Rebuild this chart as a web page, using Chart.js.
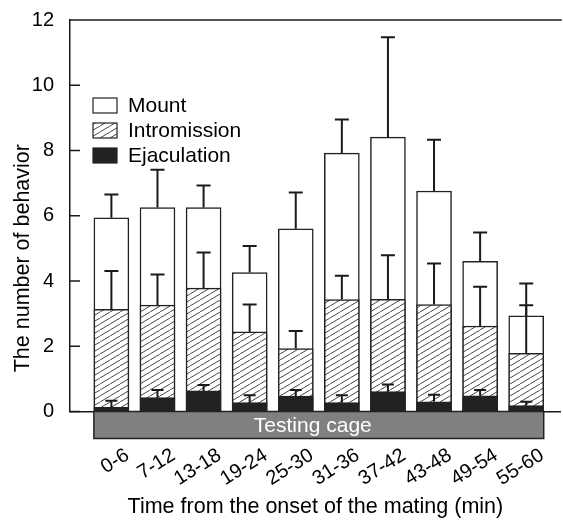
<!DOCTYPE html>
<html>
<head>
<meta charset="utf-8">
<script src="https://cdn.jsdelivr.net/npm/chart.js@4.4.0/dist/chart.umd.min.js"></script>
<style>
  html, body { margin: 0; padding: 0; background: #fff; }
  #wrap { width: 563px; height: 520px; }
</style>
</head>
<body>
<div id="wrap"><canvas id="chart"></canvas></div>
<script>
// values (mean, upper SEM)
const categories = ["0-6", "7-12", "13-18", "19-24", "25-30", "31-36", "37-42", "43-48", "49-54", "55-60"];
const mount = [5.94, 6.25, 6.25, 4.26, 5.60, 7.92, 8.41, 6.76, 4.60, 2.93];
const mountSem = [0.71, 1.16, 0.68, 0.81, 1.11, 1.03, 3.06, 1.57, 0.89, 0.99];
const intromission = [3.13, 3.26, 3.78, 2.44, 1.93, 3.43, 3.44, 3.28, 2.62, 1.78];
const intromissionSem = [1.18, 0.94, 1.09, 0.84, 0.54, 0.73, 1.35, 1.26, 1.20, 1.48];
const ejaculation = [0.13, 0.43, 0.63, 0.27, 0.47, 0.27, 0.61, 0.30, 0.48, 0.18];
const ejaculationSem = [0.20, 0.23, 0.18, 0.23, 0.19, 0.23, 0.22, 0.21, 0.18, 0.12];
const yTicks = [0, 2, 4, 6, 8, 10, 12];
const bandLabel = "Testing cage";
const yTitle = "The number of behavior";

const FONT = "'Liberation Sans', Arial, Helvetica, sans-serif";
const INK = "#1a1a1a";

function hatch() {
    let c = document.createElement("canvas");
    c.width = 10; c.height = 6;
    let g = c.getContext("2d");
    g.fillStyle = "#fff";
    g.fillRect(0, 0, 10, 6);
    g.strokeStyle = "#333";
    g.lineWidth = 0.9;
    g.beginPath();
    for (let k = -1; k <= 1; k++) {
        g.moveTo(k * 10, 6);
        g.lineTo(k * 10 + 10, 0);
    }
    g.stroke();
    return g.createPattern(c, "repeat");
}

const toXY = arr => arr.map((v, i) => ({x: i, y: v}));

const sems = [mountSem, intromissionSem, ejaculationSem];

const framePlugin = {
    id: "frame",
    afterDatasetsDraw(chart) {
        const ctx = chart.ctx;
        const area = chart.chartArea;
        const ys = chart.scales.y;

        // error bars (upper only)
        ctx.save();
        ctx.strokeStyle = INK;
        ctx.lineWidth = 2;
        chart.data.datasets.forEach((ds, i) => {
            let meta = chart.getDatasetMeta(i);
            meta.data.forEach((el, j) => {
                let top = ys.getPixelForValue(ds.data[j].y + sems[i][j]);
                let half = i == 2 ? 6 : 7;
                ctx.beginPath();
                ctx.moveTo(el.x, el.y);
                ctx.lineTo(el.x, top);
                ctx.moveTo(el.x - half, top);
                ctx.lineTo(el.x + half, top);
                ctx.stroke();
            });
        });

        // top frame line + inward y ticks
        ctx.lineWidth = 1.5;
        ctx.beginPath();
        ctx.moveTo(area.left, area.top);
        ctx.lineTo(area.right + 1, area.top);
        yTicks.forEach(v => {
            let p = ys.getPixelForValue(v);
            ctx.moveTo(area.left, p);
            ctx.lineTo(area.left + 10, p);
        });
        ctx.stroke();

        // testing cage band
        let bars = chart.getDatasetMeta(0).data;
        let x0 = bars[0].x - bars[0].width / 2;
        let x1 = bars[bars.length - 1].x + bars[bars.length - 1].width / 2;
        ctx.fillStyle = "#808080";
        ctx.fillRect(x0, area.bottom, x1 - x0, 27);
        ctx.strokeStyle = "#222";
        ctx.lineWidth = 1.5;
        ctx.strokeRect(x0, area.bottom, x1 - x0, 27);
        ctx.fillStyle = "#fff";
        ctx.font = "21px " + FONT;
        ctx.textAlign = "center";
        ctx.textBaseline = "middle";
        ctx.fillText(bandLabel, (x0 + x1) / 2 - 6, area.bottom + 14.5);

        // legend
        ctx.font = "21px " + FONT;
        ctx.textAlign = "left";
        chart.data.datasets.forEach((ds, i) => {
            let bx = area.left + 23, by = area.top + 78 + i * 25;
            ctx.fillStyle = ds.backgroundColor;
            ctx.fillRect(bx, by, 24, 15);
            ctx.strokeStyle = "#222";
            ctx.lineWidth = 1.2;
            ctx.strokeRect(bx, by, 24, 15);
            ctx.fillStyle = "#000";
            ctx.fillText(ds.label, bx + 35, by + 8);
        });

        // y axis title (sits lower than the axis centre in the original)
        ctx.translate(23, ys.getPixelForValue(4.7));
        ctx.rotate(-Math.PI / 2);
        ctx.textAlign = "center";
        ctx.font = "21.5px " + FONT;
        ctx.fillText(yTitle, 0, 0);
        ctx.restore();
    }
};

const barStyle = {
    grouped: false,
    barThickness: 35,
    borderColor: "#222",
    borderWidth: 1.5,
    borderSkipped: false
};

new Chart(document.getElementById("chart"), {
    type: "bar",
    data: {
        datasets: [
            Object.assign({label: "Mount", data: toXY(mount), backgroundColor: "#fff", order: 3}, barStyle),
            Object.assign({label: "Intromission", data: toXY(intromission), backgroundColor: hatch(), order: 2}, barStyle),
            Object.assign({label: "Ejaculation", data: toXY(ejaculation), backgroundColor: "#222", order: 1}, barStyle)
        ]
    },
    options: {
        responsive: true,
        maintainAspectRatio: false,
        animation: false,
        layout: { padding: { top: 19, right: 1, left: 0, bottom: 0 } },
        plugins: {
            legend: { display: false },
            tooltip: { enabled: false }
        },
        scales: {
            x: {
                type: "linear",
                offset: false,
                min: -0.898,
                max: 9.75,
                grid: { display: false },
                border: { display: true, color: INK, width: 1.5 },
                afterFit: scale => { scale.height = 108.5; },
                ticks: {
                    stepSize: 1,
                    includeBounds: false,
                    autoSkip: false,
                    minRotation: 32,
                    maxRotation: 32,
                    padding: 24,
                    labelOffset: 16,
                    color: "#000",
                    font: { family: FONT, size: 20 },
                    callback: v => categories[v] || ""
                },
                title: {
                    display: true,
                    text: "Time from the onset of the mating (min)",
                    color: "#000",
                    font: { family: FONT, size: 21.5 },
                    padding: { top: 0, bottom: 0 }
                }
            },
            y: {
                min: 0,
                max: 12,
                grid: { display: false },
                border: { display: true, color: INK, width: 1.5 },
                afterFit: scale => { scale.width = 70; },
                afterBuildTicks: scale => { scale.ticks = yTicks.map(v => ({value: v})); },
                ticks: {
                    padding: 8,
                    color: "#000",
                    font: { family: FONT, size: 20 }
                },
                title: { display: false }
            }
        }
    },
    plugins: [framePlugin]
});
</script>
</body>
</html>
